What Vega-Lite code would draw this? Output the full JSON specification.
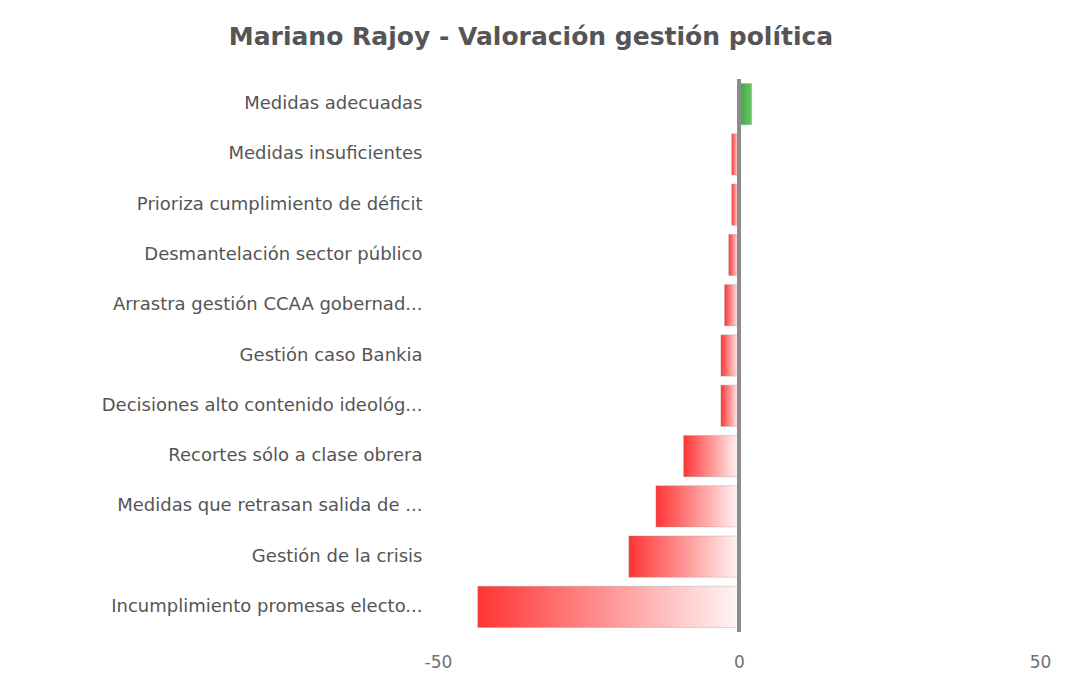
{
  "$schema": "https://vega.github.io/schema/vega-lite/v6.json",
  "width": 602,
  "height": 553,
  "autosize": {"type": "none"},
  "padding": {"left": 438, "top": 79, "right": 26, "bottom": 45},
  "background": "white",
  "view": {"stroke": null},
  "title": {
    "text": "Mariano Rajoy - Valoración gestión política",
    "font": "DejaVu Sans",
    "fontSize": 25,
    "fontWeight": "bold",
    "color": "#555555",
    "anchor": "middle",
    "dx": -208,
    "offset": 28
  },
  "data": {
    "values": [
      {"item": "Medidas adecuadas", "value": 2.1},
      {"item": "Medidas insuficientes", "value": -1.2},
      {"item": "Prioriza cumplimiento de déficit", "value": -1.2},
      {"item": "Desmantelación sector público", "value": -1.7},
      {"item": "Arrastra gestión CCAA gobernad...", "value": -2.4},
      {"item": "Gestión caso Bankia", "value": -3.0},
      {"item": "Decisiones alto contenido ideológ...", "value": -3.0},
      {"item": "Recortes sólo a clase obrera", "value": -9.2},
      {"item": "Medidas que retrasan salida de ...", "value": -13.8},
      {"item": "Gestión de la crisis", "value": -18.3},
      {"item": "Incumplimiento promesas electo...", "value": -43.4}
    ]
  },
  "encoding": {
    "y": {
      "field": "item",
      "type": "nominal",
      "sort": null,
      "scale": {
        "domain": [
          "Medidas adecuadas",
          "Medidas insuficientes",
          "Prioriza cumplimiento de déficit",
          "Desmantelación sector público",
          "Arrastra gestión CCAA gobernad...",
          "Gestión caso Bankia",
          "Decisiones alto contenido ideológ...",
          "Recortes sólo a clase obrera",
          "Medidas que retrasan salida de ...",
          "Gestión de la crisis",
          "Incumplimiento promesas electo..."
        ],
        "paddingInner": 0.18,
        "paddingOuter": 0.09
      },
      "axis": {
        "title": null,
        "ticks": false,
        "domain": false,
        "labelFont": "DejaVu Sans",
        "labelFontSize": 18,
        "labelColor": "#555555",
        "labelPadding": 16,
        "labelLimit": 0
      }
    }
  },
  "layer": [
    {
      "transform": [{"filter": "datum.value < 0"}],
      "mark": {
        "type": "bar",
        "stroke": "#999999",
        "strokeWidth": 1,
        "strokeOpacity": 0.35,
        "color": {
          "gradient": "linear",
          "x1": 0, "x2": 1, "y1": 0, "y2": 0,
          "stops": [
            {"offset": 0, "color": "#ff3434"},
            {"offset": 1, "color": "#fff6f6"}
          ]
        }
      },
      "encoding": {
        "x": {
          "field": "value",
          "type": "quantitative",
          "scale": {"domain": [-50, 50], "nice": false, "zero": false},
          "axis": {
            "title": null,
            "values": [-50, 0, 50],
            "labelExpr": "datum.value",
            "grid": false,
            "ticks": false,
            "domain": false,
            "labelFlush": false,
            "labelFont": "DejaVu Sans",
            "labelFontSize": 17,
            "labelColor": "#707070",
            "labelPadding": 22
          }
        }
      }
    },
    {
      "transform": [{"filter": "datum.value >= 0"}],
      "mark": {
        "type": "bar",
        "stroke": "#999999",
        "strokeWidth": 1,
        "strokeOpacity": 0.35,
        "color": {
          "gradient": "linear",
          "x1": 0, "x2": 1, "y1": 0, "y2": 0,
          "stops": [
            {"offset": 0, "color": "#3aa83a"},
            {"offset": 1, "color": "#6cc46c"}
          ]
        }
      },
      "encoding": {
        "x": {"field": "value", "type": "quantitative"}
      }
    },
    {
      "mark": {"type": "rule", "color": "#8c8c8c", "strokeWidth": 3},
      "encoding": {"x": {"datum": 0}, "y": null}
    }
  ]
}
